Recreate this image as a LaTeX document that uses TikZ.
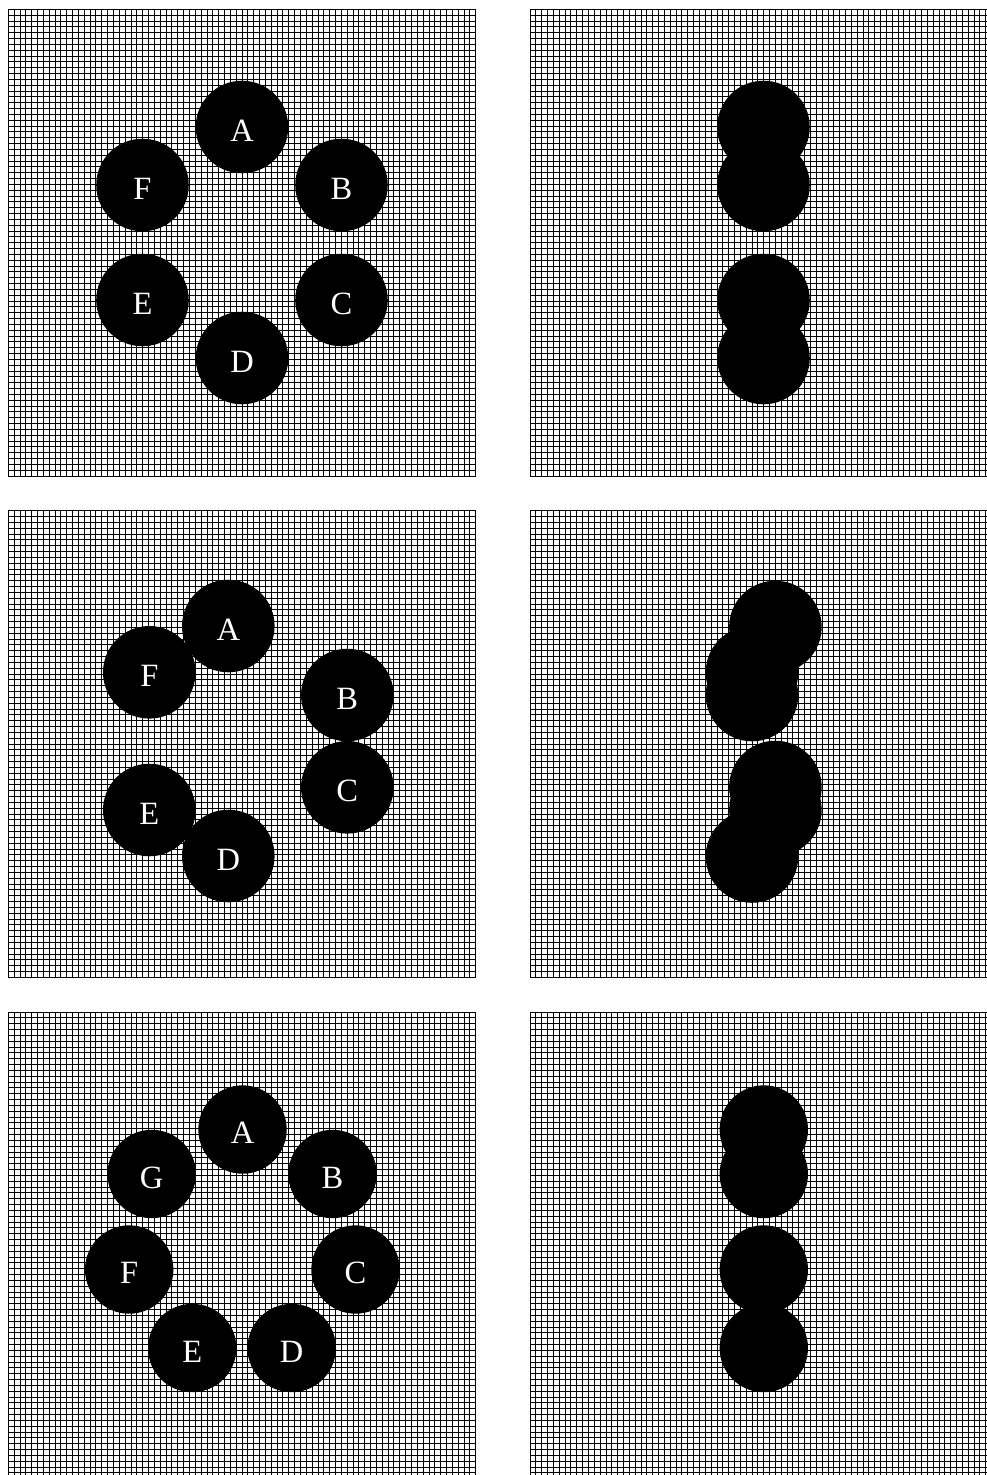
\documentclass[tikz,border=0pt]{standalone}
\usepackage{fontspec}
\setmainfont{Liberation Serif}
\begin{document}
\begin{tikzpicture}[x=0.02cm,y=-0.02cm,
  gridline/.style={black,line width=0.5pt},
  ball/.style={circle,fill=black,inner sep=0pt,minimum size=1.852cm,text=white,
    text height=16.2pt,text depth=0pt,font=\fontsize{18.5}{20}\selectfont},
  smallball/.style={ball,minimum size=1.768cm}]
\useasboundingbox (0,0) rectangle (987,1475);
\fill[white] (0,0) rectangle (987,1475);
\begin{scope}
\clip (0,0) rectangle (987,1475);
% grids
\foreach \px in {8.3,530}{
  \foreach \py in {9.3,510.7,1012}{
    \foreach \i in {0,...,80}{
      \draw[gridline] ({\px+\i*5.8425},\py) -- ++(0,466.7);
      \draw[gridline] (\px,{\py+\i*5.834}) -- ++(467.4,0);
    }
  }
}
% row 1 left
\node[ball] (A1) at (242,127) {A};
\node[ball] (B1) at (341.5,185) {B};
\node[ball] (C1) at (341.5,300) {C};
\node[ball] (D1) at (242,358) {D};
\node[ball] (E1) at (142.5,300) {E};
\node[ball] (F1) at (142.5,185) {F};
% row 1 right
\node[ball] (pA1) at (763.5,127) {};
\node[ball] (pB1) at (763.5,185) {};
\node[ball] (pC1) at (763.5,300) {};
\node[ball] (pD1) at (763.5,358) {};
% row 2 left
\node[ball] (A2) at (228.3,626) {A};
\node[ball] (F2) at (149.3,672.3) {F};
\node[ball] (B2) at (347.3,695) {B};
\node[ball] (C2) at (347.3,787.3) {C};
\node[ball] (E2) at (149.3,810) {E};
\node[ball] (D2) at (228.3,856) {D};
% row 2 right
\node[ball] (pA2) at (775.4,627) {};
\node[ball] (pF2) at (752,672.3) {};
\node[ball] (pB2) at (752,695) {};
\node[ball] (pC2) at (775.4,787) {};
\node[ball] (pE2) at (775.4,810) {};
\node[ball] (pD2) at (752,856.5) {};
% row 3 left
\node[smallball] (A3) at (242.5,1129.5) {A};
\node[smallball] (B3) at (332.5,1174) {B};
\node[smallball] (C3) at (355.5,1269.5) {C};
\node[smallball] (D3) at (291.7,1348) {D};
\node[smallball] (E3) at (192.2,1348) {E};
\node[smallball] (F3) at (129.2,1269.5) {F};
\node[smallball] (G3) at (151.7,1174) {G};
% row 3 right
\node[smallball] (pA3) at (763.8,1129.5) {};
\node[smallball] (pB3) at (763.8,1174) {};
\node[smallball] (pC3) at (763.8,1269.5) {};
\node[smallball] (pD3) at (763.8,1348) {};
\end{scope}
\end{tikzpicture}
\end{document}
